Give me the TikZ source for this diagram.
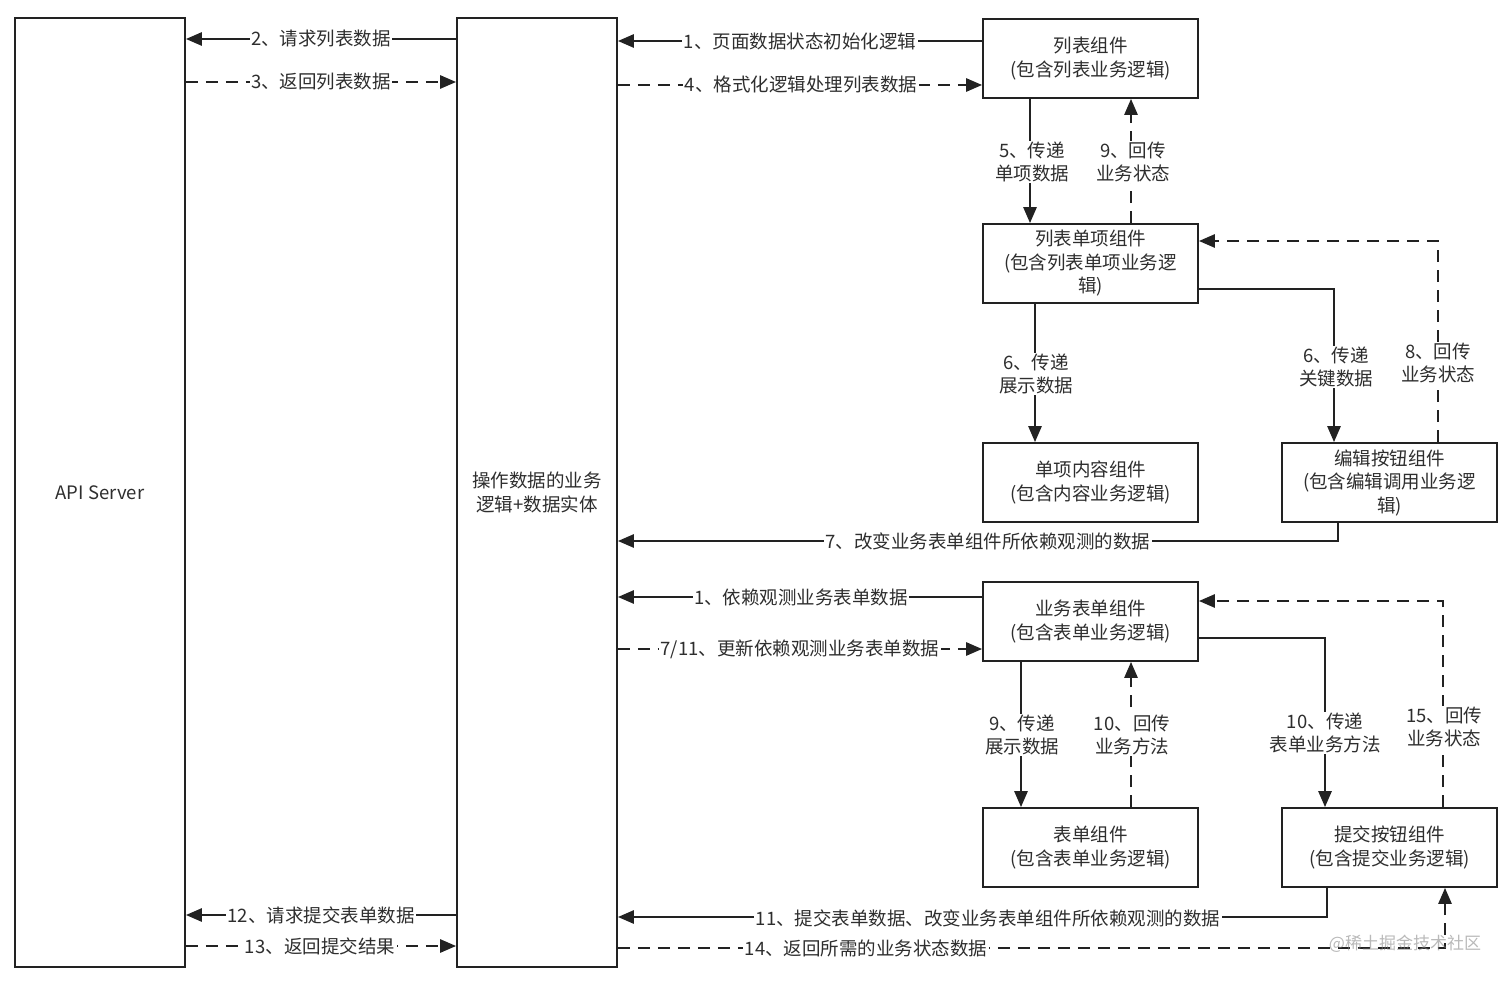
\documentclass[tikz,border=0pt]{standalone}
\usepackage{fontspec}
\setmainfont{Noto Sans CJK SC}
\usetikzlibrary{arrows.meta}
\definecolor{lc}{HTML}{222222}
\definecolor{tc}{HTML}{2E2E2E}
\begin{document}
\begin{tikzpicture}[x=1pt,y=-1pt,
  box/.style={draw=lc, line width=1.7pt, fill=white, align=center, text=tc,
    font=\fontsize{18.5}{23.5}\selectfont, inner sep=0pt},
  conn/.style={draw=lc, line width=2.6pt, -{Triangle[length=16pt,width=13pt]}},
  dsh/.style={conn, dash pattern=on 12pt off 8pt},
  lbl/.style={fill=white, text=tc, font=\fontsize{18.5}{22.5}\selectfont, inner sep=1.5pt, align=center}]
\useasboundingbox (0,0) rectangle (1512,981);
\fill[white] (0,0) rectangle (1512,981);

% boxes
\node[box, minimum width=170pt, minimum height=949pt] (api) at (100,492.5) {API Server};
\node[box, minimum width=160pt, minimum height=949pt] (mid) at (537,492.5) {操作数据的业务\\逻辑+数据实体};
\node[box, minimum width=215pt, minimum height=79pt] (list) at (1090.5,58.5) {列表组件\\(包含列表业务逻辑)};
\node[box, minimum width=215pt, minimum height=79pt] (item) at (1090.5,263.5) {列表单项组件\\(包含列表单项业务逻\\辑)};
\node[box, minimum width=215pt, minimum height=79pt] (content) at (1090.5,482.5) {单项内容组件\\(包含内容业务逻辑)};
\node[box, minimum width=215pt, minimum height=79pt] (edit) at (1389.5,482.5) {编辑按钮组件\\(包含编辑调用业务逻\\辑)};
\node[box, minimum width=215pt, minimum height=79pt] (bform) at (1090.5,621.5) {业务表单组件\\(包含表单业务逻辑)};
\node[box, minimum width=215pt, minimum height=79pt] (form) at (1090.5,847.5) {表单组件\\(包含表单业务逻辑)};
\node[box, minimum width=215pt, minimum height=79pt] (submit) at (1389.5,847.5) {提交按钮组件\\(包含提交业务逻辑)};

% connectors: top section
\draw[conn] (mid.west |- 0,39) -- (api.east |- 0,39);
\node[lbl] (l2) at (321,39) {2、请求列表数据};
\draw[dsh] (api.east |- 0,82) -- (mid.west |- 0,82);
\node[lbl] (l3) at (321,82) {3、返回列表数据};

\draw[conn] (list.west |- 0,41) -- (mid.east |- 0,41);
\node[lbl] (l1) at (800,41) {1、页面数据状态初始化逻辑};
\draw[dsh] (mid.east |- 0,85) -- (list.west |- 0,85);
\node[lbl] (l4) at (801,85) {4、格式化逻辑处理列表数据};

\draw[conn] (1030,0 |- list.south) -- (1030,0 |- item.north);
\node[lbl] (l5) at (1032,162) {5、传递\\单项数据};
\draw[dsh] (1131,0 |- item.north) -- (1131,0 |- list.south);
\node[lbl] (l9) at (1133,162) {9、回传\\业务状态};

\draw[conn] (1035,0 |- item.south) -- (1035,0 |- content.north);
\node[lbl] (l6a) at (1036,374) {6、传递\\展示数据};
\draw[conn] (item.east |- 0,289) -| (1334,0 |- edit.north);
\node[lbl] (l6b) at (1336,367) {6、传递\\关键数据};
\draw[dsh] (1438,0 |- edit.north) |- (item.east |- 0,241);
\node[lbl] (l8) at (1438,363) {8、回传\\业务状态};

\draw[conn] (1338,0 |- edit.south) |- (mid.east |- 0,541);
\node[lbl] (l7) at (988,541) {7、改变业务表单组件所依赖观测的数据};

% form section
\draw[conn] (bform.west |- 0,597) -- (mid.east |- 0,597);
\node[lbl] (l1b) at (801,597) {1、依赖观测业务表单数据};
\draw[dsh] (mid.east |- 0,649) -- (bform.west |- 0,649);
\node[lbl] (l711) at (800,649) {7/11、更新依赖观测业务表单数据};

\draw[conn] (1021,0 |- bform.south) -- (1021,0 |- form.north);
\node[lbl] (l9b) at (1022,735) {9、传递\\展示数据};
\draw[dsh] (1131,0 |- form.north) -- (1131,0 |- bform.south);
\node[lbl] (l10a) at (1132,735) {10、回传\\业务方法};

\draw[conn] (bform.east |- 0,638) -| (1325,0 |- submit.north);
\node[lbl] (l10b) at (1325,733) {10、传递\\表单业务方法};
\draw[dsh] (1443,0 |- submit.north) |- (bform.east |- 0,601);
\node[lbl] (l15) at (1444,727) {15、回传\\业务状态};

\draw[conn] (1327,0 |- submit.south) |- (mid.east |- 0,917);
\node[lbl] (l11) at (988,918) {11、提交表单数据、改变业务表单组件所依赖观测的数据};
\draw[dsh] (mid.east |- 0,948) -| (1445,0 |- submit.south);
\node[lbl] (l14) at (866,948) {14、返回所需的业务状态数据};

\draw[conn] (mid.west |- 0,915) -- (api.east |- 0,915);
\node[lbl] (l12) at (321,915) {12、请求提交表单数据};
\draw[dsh] (api.east |- 0,946) -- (mid.west |- 0,946);
\node[lbl] (l13) at (320,946) {13、返回提交结果};

% watermark
\node[text=gray, opacity=0.55, font=\fontsize{17}{20}\selectfont, inner sep=0pt] (wm) at (1405,944) {@稀土掘金技术社区};
\end{tikzpicture}
\end{document}
